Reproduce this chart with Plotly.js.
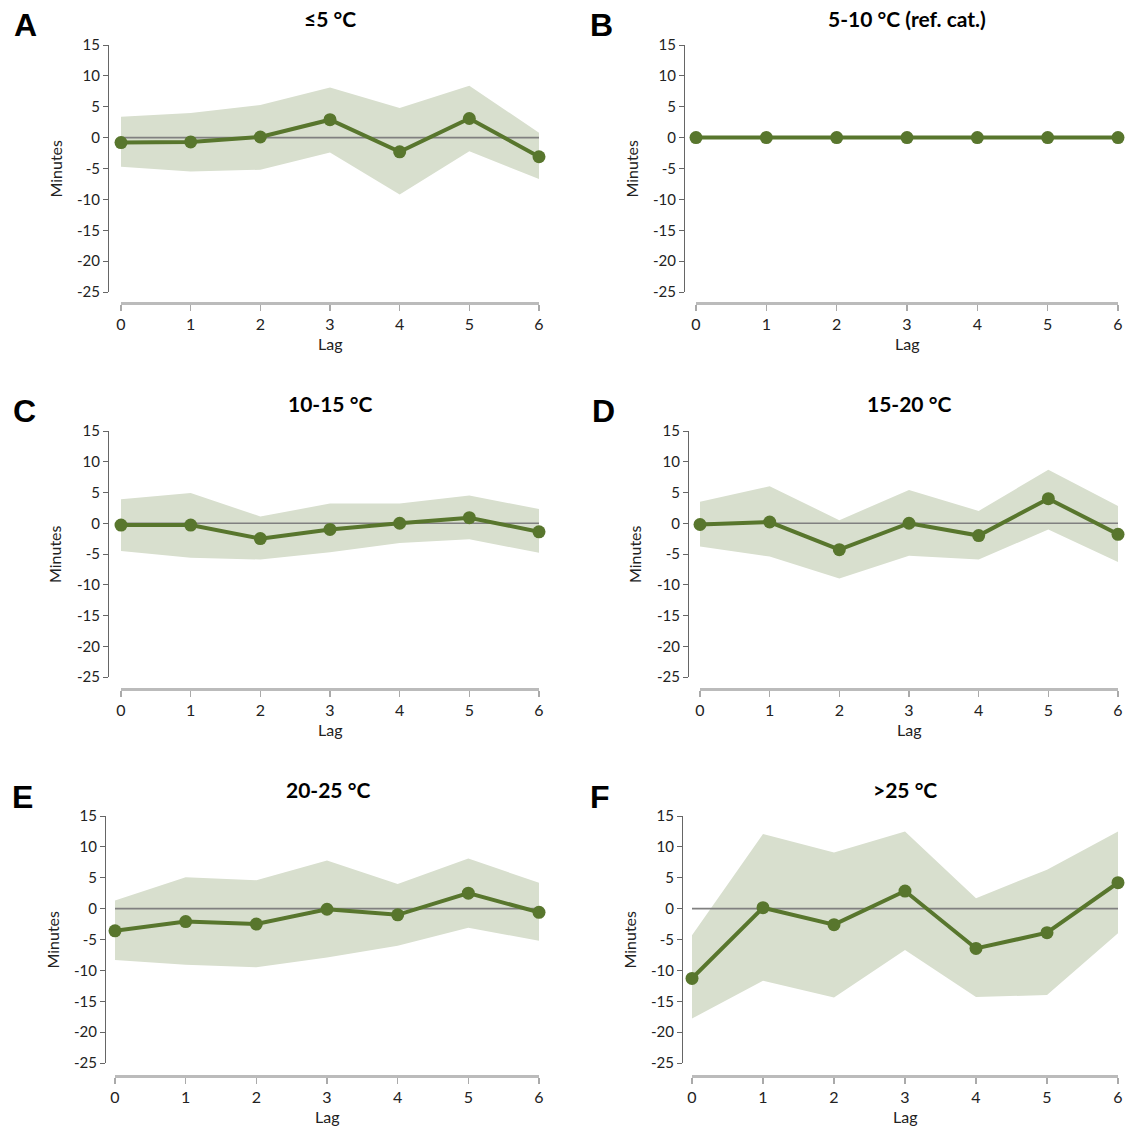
<!DOCTYPE html>
<html>
<head>
<meta charset="utf-8">
<script src="https://cdn.plot.ly/plotly-3.0.1.min.js"></script>
<style>
  body { margin: 0; background: #fff; }
  #grafico { width: 1129px; height: 1126px; }
</style>
</head>
<body>
<div id="grafico"></div>
<script>
const lags = [0, 1, 2, 3, 4, 5, 6]
const titulos = ["≤5 °C", "5-10 °C (ref. cat.)", "10-15 °C", "15-20 °C", "20-25 °C", ">25 °C"]
const letras = ["A", "B", "C", "D", "E", "F"]
const yTicks = [15, 10, 5, 0, -5, -10, -15, -20, -25]
const yTickText = ["15", "10", "5", "0", "-5", "-10", "-15", "-20", "-25"]

// ≤5 °C
const mediaA = [-0.8, -0.7, 0.1, 2.9, -2.3, 3.1, -3.1]
const infA = [-4.7, -5.5, -5.2, -2.4, -9.2, -2.2, -6.7]
const supA = [3.4, 4.0, 5.3, 8.1, 4.8, 8.4, 0.8]
// 5-10 °C (referencia)
const mediaB = [0, 0, 0, 0, 0, 0, 0]
const infB = [0, 0, 0, 0, 0, 0, 0]
const supB = [0, 0, 0, 0, 0, 0, 0]
// 10-15 °C
const mediaC = [-0.3, -0.3, -2.5, -1.0, 0.0, 0.9, -1.4]
const infC = [-4.5, -5.6, -5.9, -4.7, -3.2, -2.6, -4.8]
const supC = [3.9, 4.9, 1.1, 3.2, 3.2, 4.5, 2.3]
// 15-20 °C
const mediaD = [-0.2, 0.2, -4.3, 0.0, -2.0, 4.0, -1.8]
const infD = [-3.8, -5.4, -9.0, -5.3, -5.9, -1.0, -6.3]
const supD = [3.5, 6.0, 0.5, 5.4, 2.0, 8.7, 2.8]
// 20-25 °C
const mediaE = [-3.6, -2.1, -2.5, -0.1, -1.0, 2.5, -0.6]
const infE = [-8.3, -9.1, -9.5, -7.9, -6.0, -3.1, -5.2]
const supE = [1.3, 5.1, 4.6, 7.8, 4.0, 8.1, 4.2]
// >25 °C
const mediaF = [-11.3, 0.15, -2.6, 2.85, -6.45, -3.9, 4.2]
const infF = [-17.8, -11.7, -14.4, -6.7, -14.3, -14.0, -4.0]
const supF = [-4.3, 12.1, 9.1, 12.5, 1.7, 6.3, 12.5]

const medias = [mediaA, mediaB, mediaC, mediaD, mediaE, mediaF]
const inferiores = [infA, infB, infC, infD, infE, infF]
const superiores = [supA, supB, supC, supD, supE, supF]

const W = 1129
const H = 1126
const px = (v) => v / W
const py = (v) => 1 - v / H

// geometria de cada painel em pixels: x0, x1 (lag 0..6), topo (15), base (-25), linha y, linha x, letra, titulo
const paineis = [
  { x0: 121, x1: 539, top: 45, bot: 292, yLinha: 108, xLinha: 303, letraX: 25, letraY: 25, tituloX: 330, tituloY: 18 },
  { x0: 696, x1: 1118, top: 45, bot: 292, yLinha: 684, xLinha: 303, letraX: 601, letraY: 25, tituloX: 907, tituloY: 18 },
  { x0: 121, x1: 539, top: 431, bot: 677, yLinha: 108, xLinha: 689, letraX: 24, letraY: 411, tituloX: 330, tituloY: 404 },
  { x0: 700, x1: 1118, top: 431, bot: 677, yLinha: 688, xLinha: 689, letraX: 603, letraY: 411, tituloX: 909, tituloY: 404 },
  { x0: 115, x1: 539, top: 816, bot: 1063, yLinha: 105, xLinha: 1076, letraX: 22, letraY: 797, tituloX: 328, tituloY: 789 },
  { x0: 692, x1: 1118, top: 816, bot: 1063, yLinha: 682, xLinha: 1076, letraX: 600, letraY: 797, tituloX: 905, tituloY: 789 },
]

const verde = "rgb(88,118,45)"
const faixa = "rgb(216,223,206)"
const fonteTexto = "Lato, 'Open Sans', sans-serif"

const data = []
const layout = {
  width: W,
  height: H,
  margin: { l: 0, r: 0, t: 0, b: 0 },
  paper_bgcolor: "#fff",
  plot_bgcolor: "rgba(0,0,0,0)",
  showlegend: false,
  font: { family: fonteTexto, size: 15, color: "#222" },
  annotations: [],
}

paineis.forEach((p, i) => {
  const n = i === 0 ? "" : String(i + 1)
  const xa = "x" + n
  const ya = "y" + n

  data.push({
    x: lags, y: inferiores[i], xaxis: xa, yaxis: ya,
    mode: "lines", line: { width: 0, color: faixa }, hoverinfo: "skip",
  })
  data.push({
    x: lags, y: superiores[i], xaxis: xa, yaxis: ya,
    mode: "lines", line: { width: 0, color: faixa },
    fill: "tonexty", fillcolor: faixa, hoverinfo: "skip",
  })
  // linha de referencia em zero, por cima da faixa
  data.push({
    x: lags, y: lags.map(() => 0), xaxis: xa, yaxis: ya,
    mode: "lines", line: { width: 1.6, color: "#808080" }, hoverinfo: "skip",
  })
  data.push({
    x: lags, y: medias[i], xaxis: xa, yaxis: ya,
    mode: "lines+markers",
    line: { color: verde, width: 4 },
    marker: { color: verde, size: 13 },
    cliponaxis: false,
  })

  layout["xaxis" + n] = {
    domain: [px(p.x0), px(p.x1)],
    range: [0, 6],
    anchor: "free",
    position: py(p.xLinha),
    tickvals: lags,
    ticktext: lags.map(String),
    ticks: "outside",
    ticklen: 6,
    tickwidth: 1.5,
    tickcolor: "#aaa",
    showline: true,
    linecolor: "#bbb",
    linewidth: 2.5,
    showgrid: false,
    zeroline: false,
    tickfont: { size: 16, color: "#222" },
    fixedrange: true,
  }
  layout["yaxis" + n] = {
    domain: [py(p.bot), py(p.top)],
    range: [-25, 15],
    anchor: "free",
    position: px(p.yLinha),
    tickvals: yTicks,
    ticktext: yTickText,
    ticks: "outside",
    ticklen: 5,
    tickcolor: "#666",
    showline: true,
    linecolor: "#666",
    linewidth: 1.2,
    showgrid: false,
    zeroline: false,
    tickfont: { size: 15, color: "#222" },
    fixedrange: true,
  }

  layout.annotations.push({
    text: "<b>" + letras[i] + "</b>", xref: "paper", yref: "paper",
    x: px(p.letraX), y: py(p.letraY), xanchor: "center", yanchor: "middle",
    showarrow: false, font: { family: "'Liberation Sans', Arial, sans-serif", size: 32, color: "#000" },
  })
  layout.annotations.push({
    text: "<b>" + titulos[i] + "</b>", xref: "paper", yref: "paper",
    x: px(p.tituloX), y: py(p.tituloY), xanchor: "center", yanchor: "middle",
    showarrow: false, font: { family: fonteTexto, size: 21, color: "#000" },
  })
  layout.annotations.push({
    text: "Minutes", xref: "paper", yref: "paper", textangle: -90,
    x: px(p.yLinha - 53), y: py((p.top + p.bot) / 2), xanchor: "center", yanchor: "middle",
    showarrow: false, font: { family: fonteTexto, size: 16, color: "#222" },
  })
  layout.annotations.push({
    text: "Lag", xref: "paper", yref: "paper",
    x: px((p.x0 + p.x1) / 2), y: py(p.xLinha + 40), xanchor: "center", yanchor: "middle",
    showarrow: false, font: { family: fonteTexto, size: 16, color: "#222" },
  })
})

Plotly.newPlot("grafico", data, layout, { displayModeBar: false, staticPlot: true })
</script>
</body>
</html>
